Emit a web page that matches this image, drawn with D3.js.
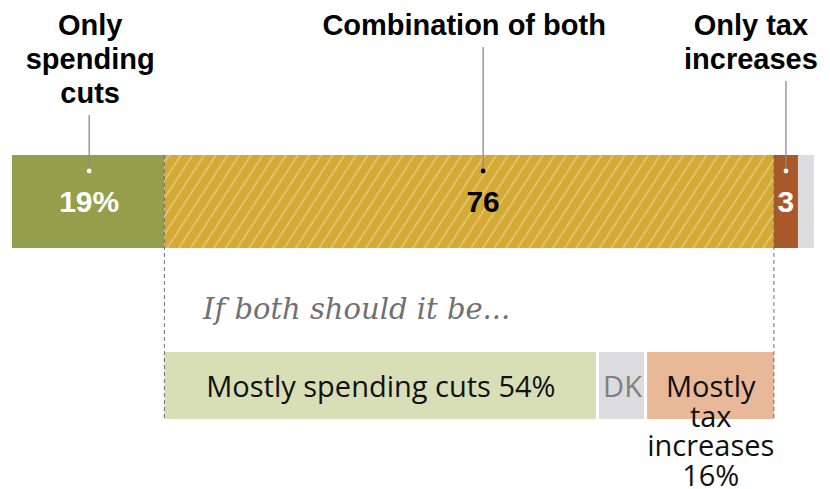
<!DOCTYPE html>
<html lang="en">
<head>
	<meta charset="utf-8">
	<title>spending_cuts_tax</title>
	<style>
		html, body { margin: 0; padding: 0; background: #fff; }
		svg { display: block; }
	</style>
</head>
<body>
	<script src="https://cdn.jsdelivr.net/npm/d3@7"></script>
	<script>
		// top bar
		const topCategories = ["Only spending cuts", "Combination of both", "Only tax increases", "DK"];
		const topValues = [19, 76, 3, 2];
		const topValueLabels = ["19%", "76", "3", ""];
		const topHeadings = [["Only", "spending", "cuts"], ["Combination of both"], ["Only tax", "increases"], []];

		// "if both" breakdown
		const subCategories = ["Mostly spending cuts", "DK", "Mostly tax increases"];
		const subValues = [54, 6, 16];
		const subLabels = [["Mostly spending cuts 54%"], ["DK"], ["Mostly", "tax", "increases", "16%"]];

		const width = 830, height = 489;

		const topColors = ["#959e4a", "#d4a934", "#a9582a", "#dcdcde"];
		const subColors = ["#d8dfb7", "#dcdcde", "#e9b898"];
		const valueColors = ["#fff", "#000", "#fff", "#fff"];
		const dotColors = ["#fff", "#000", "#fff", "#fff"];
		const headDx = [1, -19, -35, 0];
		const leaderDx = [1, 14, 0, 0];

		const x = d3.scaleLinear().domain([0, 100]).range([12, 814]);

		const svg = d3.select("body").append("svg")
			.attr("width", width)
			.attr("height", height);

		const defs = svg.append("defs");
		const pat = defs.append("pattern")
			.attr("id", "hatch")
			.attr("patternUnits", "userSpaceOnUse")
			.attr("width", 9.8)
			.attr("height", 20)
			.attr("patternTransform", "rotate(33)");
		pat.append("rect").attr("width", 9.8).attr("height", 20).attr("fill", topColors[1]);
		pat.append("line")
			.attr("x1", 1).attr("x2", 1).attr("y1", 0).attr("y2", 20)
			.attr("stroke", "#fff").attr("stroke-opacity", 0.5).attr("stroke-width", 1.1);

		// stack the top bar
		let acc = 0;
		const topData = topValues.map((v, i) => {
			const d = { i, name: topCategories[i], value: v, x0: acc, x1: acc + v };
			acc += v;
			return d;
		});

		const barTop = 155, barH = 93;

		svg.append("g")
			.selectAll("rect")
			.data(topData)
			.join("rect")
			.attr("x", d => x(d.x0))
			.attr("y", barTop)
			.attr("width", d => x(d.x1) - x(d.x0))
			.attr("height", barH)
			.attr("fill", d => d.i === 1 ? "url(#hatch)" : topColors[d.i]);

		// "if both" breakdown sits under the combination segment
		const both = topData[1];
		let acc2 = both.x0;
		const subData = subValues.map((v, i) => {
			const d = { i, name: subCategories[i], value: v, x0: acc2, x1: acc2 + v };
			acc2 += v;
			return d;
		});

		const subTop = 352, subH = 67;

		svg.append("g")
			.selectAll("rect")
			.data(subData)
			.join("rect")
			.attr("x", d => x(d.x0) + (d.i > 0 ? 1.5 : 0))
			.attr("y", subTop)
			.attr("width", d => x(d.x1) - x(d.x0) - (d.i > 0 ? 1.5 : 0) - (d.i < subData.length - 1 ? 1.5 : 0))
			.attr("height", subH)
			.attr("fill", d => subColors[d.i]);

		// dashed guides
		svg.append("g")
			.selectAll("line")
			.data([both.x0, both.x1])
			.join("line")
			.attr("x1", d => x(d)).attr("x2", d => x(d))
			.attr("y1", barTop).attr("y2", subTop + subH)
			.attr("stroke", "#6e6e6e")
			.attr("stroke-width", 1)
			.attr("stroke-dasharray", "4,3");

		// headings + leaders
		const lineH = 34;
		const headed = topData.filter(d => topHeadings[d.i].length);
		const head = svg.append("g");

		headed.forEach(d => {
			const cx = (x(d.x0) + x(d.x1)) / 2 + leaderDx[d.i];
			const lines = topHeadings[d.i];
			head.append("text")
				.attr("text-anchor", "middle")
				.attr("font-family", "'Liberation Sans', Arial, sans-serif")
				.attr("font-weight", "bold")
				.attr("font-size", 29)
				.attr("fill", "#000")
				.selectAll("tspan")
				.data(lines)
				.join("tspan")
				.attr("x", cx + headDx[d.i])
				.attr("y", (l, j) => 35 + j * lineH)
				.text(l => l);

			const lastBase = 35 + (lines.length - 1) * lineH;
			head.append("line")
				.attr("x1", cx).attr("x2", cx)
				.attr("y1", lastBase + 12).attr("y2", 170)
				.attr("stroke", "#8c8c8c")
				.attr("stroke-width", 1.3);
			head.append("circle")
				.attr("cx", cx).attr("cy", 171)
				.attr("r", 2.4)
				.attr("fill", dotColors[d.i]);

			head.append("text")
				.attr("x", cx)
				.attr("y", 212)
				.attr("text-anchor", "middle")
				.attr("font-family", "'Liberation Sans', Arial, sans-serif")
				.attr("font-weight", "bold")
				.attr("font-size", 30)
				.attr("fill", valueColors[d.i])
				.text(topValueLabels[d.i]);
		});

		svg.append("text")
			.attr("x", 203)
			.attr("y", 319)
			.attr("font-family", "'DejaVu Serif', Georgia, serif")
			.attr("font-style", "italic")
			.attr("font-size", 29)
			.attr("fill", "#707070")
			.text("If both should it be...");

		// breakdown labels
		svg.append("g")
			.selectAll("text")
			.data(subData)
			.join("text")
			.attr("text-anchor", "middle")
			.attr("font-family", "'Open Sans', sans-serif")
			.attr("font-size", 29)
			.attr("fill", d => d.name === "DK" ? "#808080" : "#111")
			.each(function (d) {
				const cx = (x(d.x0) + x(d.x1)) / 2 + (d.i > 0 ? 1 : 0);
				d3.select(this).selectAll("tspan")
					.data(subLabels[d.i])
					.join("tspan")
					.attr("x", cx)
					.attr("y", (l, j) => 397 + j * 29.5)
					.text(l => l);
			});
	</script>
</body>
</html>
